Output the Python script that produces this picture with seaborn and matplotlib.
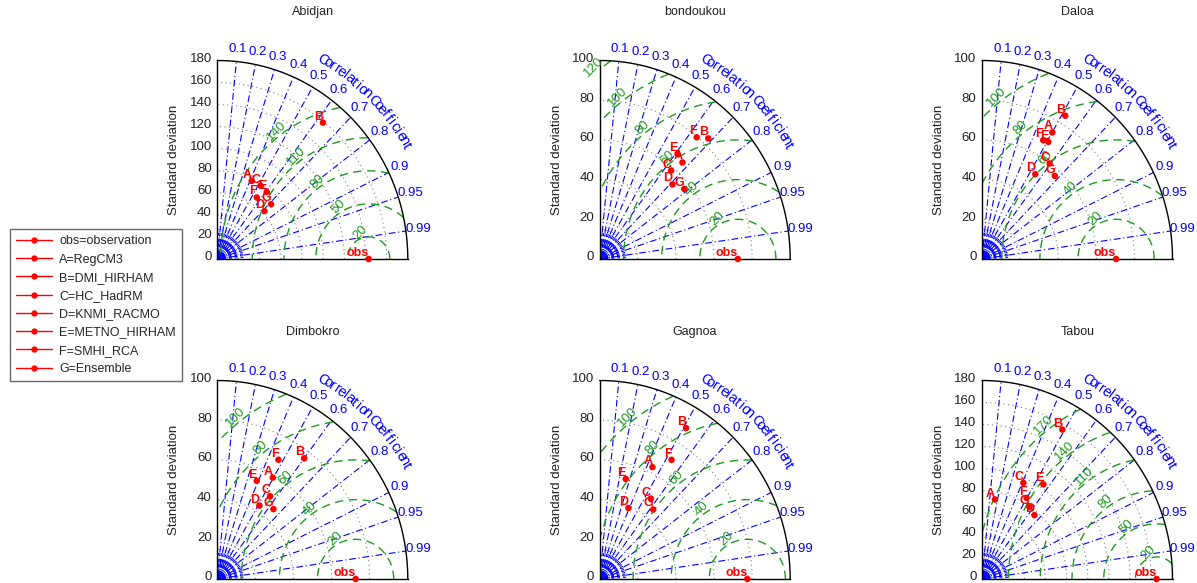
import numpy as np
import pandas as pd
import matplotlib
matplotlib.use('Agg')
import matplotlib.pyplot as plt
import matplotlib.transforms as mtransforms
from matplotlib.lines import Line2D
import seaborn as sns

# stations and models
stations = ['Abidjan', 'bondoukou', 'Daloa', 'Dimbokro', 'Gagnoa', 'Tabou']
models = ['A', 'B', 'C', 'D', 'E', 'F', 'G']
legend_names = ['obs=observation', 'A=RegCM3', 'B=DMI_HIRHAM', 'C=HC_HadRM',
                'D=KNMI_RACMO', 'E=METNO_HIRHAM', 'F=SMHI_RCA', 'G=Ensemble']

std_max = [180, 100, 100, 100, 100, 180]
obs_std = [143, 72.5, 70.4, 72.6, 77.5, 165]

# standard deviation / correlation of each model (order A..G)
abidjan_std = [77.9, 158.9, 78.0, 62.2, 76.7, 67.1, 71.1]
abidjan_cor = [0.417, 0.628, 0.526, 0.716, 0.609, 0.556, 0.715]
bondoukou_std = [65.2, 83.3, 58.2, 53.6, 66.8, 79.7, 56.7]
bondoukou_cor = [0.666, 0.684, 0.644, 0.713, 0.611, 0.639, 0.783]
daloa_std = [73.7, 84.4, 59.8, 51.1, 68.5, 67.9, 56.7]
daloa_cor = [0.501, 0.518, 0.594, 0.548, 0.508, 0.473, 0.674]
dimbokro_std = [58.8, 76.0, 50.1, 43.1, 53.6, 68.1, 45.9]
dimbokro_cor = [0.495, 0.600, 0.553, 0.513, 0.386, 0.471, 0.642]
gagnoa_std = [62.8, 88.5, 48.6, 38.8, 52.2, 70.9, 44.9]
gagnoa_cor = [0.441, 0.512, 0.552, 0.389, 0.262, 0.532, 0.626]
tabou_std = [73.1, 155.3, 95.5, 76.2, 103.6, 84.8, 79.3]
tabou_cor = [0.168, 0.489, 0.409, 0.650, 0.560, 0.497, 0.565]

all_std = [abidjan_std, bondoukou_std, daloa_std, dimbokro_std, gagnoa_std, tabou_std]
all_cor = [abidjan_cor, bondoukou_cor, daloa_cor, dimbokro_cor, gagnoa_cor, tabou_cor]

# centred RMS contour levels
rms_abidjan = [20, 50, 80, 110, 140]
rms_bondoukou = [20, 40, 60, 80, 100, 120]
rms_daloa = [20, 40, 60, 80, 100]
rms_dimbokro = [20, 40, 60, 80, 100]
rms_gagnoa = [20, 40, 60, 80, 100]
rms_tabou = [20, 50, 80, 110, 140, 170]
all_rms = [rms_abidjan, rms_bondoukou, rms_daloa, rms_dimbokro, rms_gagnoa, rms_tabou]

cor_ticks = [0.1, 0.2, 0.3, 0.4, 0.5, 0.6, 0.7, 0.8, 0.9, 0.95, 0.99]

sns.set_theme(style='white')
plt.rcParams['font.family'] = ['Liberation Sans', 'DejaVu Sans']

W, H = 1197, 583
fig = plt.figure(figsize=(W / 100, H / 100), dpi=100)

lefts = [217.3, 599.7, 982.0]
bottoms = [259, 579]
aw, ah = 190.5, 198.5

blue = '#0000ff'
green = '#1f9a1f'
dashdot = (0, (6, 2.5, 1, 2.5))
up = mtransforms.ScaledTranslation(0, 3 / 100, fig.dpi_scale_trans)

for i, name in enumerate(stations):
    row, col = i // 3, i % 3
    ax = fig.add_axes([lefts[col] / W, (H - bottoms[row]) / H, aw / W, ah / H])
    rmax = std_max[i]
    so = obs_std[i]
    ax.set_xlim(0, rmax)
    ax.set_ylim(0, rmax)

    t = np.linspace(0, np.pi / 2, 300)
    # std arcs
    for s in np.arange(20, rmax, 20):
        ax.plot(s * np.cos(t), s * np.sin(t), color='#808080', ls=(0, (1, 3)), lw=0.8)

    # small fan near the origin
    for a in np.deg2rad(np.arange(0, 91, 3.5)):
        ax.plot([0, 0.15 * rmax * np.cos(a)], [0, 0.15 * rmax * np.sin(a)],
                color=blue, ls=(0, (3, 3)), lw=0.7)

    # correlation rays and labels
    for c in cor_ticks:
        a = np.arccos(c)
        ax.plot([0, rmax * np.cos(a)], [0, rmax * np.sin(a)], color=blue, ls=dashdot, lw=0.8)
        ax.text(1.065 * rmax * np.cos(a), 1.065 * rmax * np.sin(a), f'{c:g}',
                color=blue, fontsize=9.5, ha='center', va='center', clip_on=False)

    # curved axis title
    txt = 'Correlation Coefficient'
    angs = np.linspace(61, 30, len(txt))
    for ch, ang in zip(txt, angs):
        r = np.deg2rad(ang)
        ax.text(1.145 * rmax * np.cos(r), 1.145 * rmax * np.sin(r), ch, color=blue,
                fontsize=10.5, rotation=ang - 90, ha='center', va='center',
                rotation_mode='anchor', clip_on=False)

    # RMS circles
    tt = np.linspace(0, np.pi, 600)
    for L in all_rms[i]:
        x = so + L * np.cos(tt)
        y = L * np.sin(tt)
        bad = (x < 0) | (x ** 2 + y ** 2 > rmax ** 2)
        x[bad] = np.nan
        y[bad] = np.nan
        ax.plot(x, y, color=green, ls=(0, (6, 4)), lw=1.0)
        ang = np.deg2rad(130 - 20 * (0.12 * rmax / L))
        rr = L + 0.03 * rmax
        ax.text(so + rr * np.cos(ang), rr * np.sin(ang), str(L), color=green,
                fontsize=9.5, rotation=45, ha='center', va='center', clip_on=False)

    # outer arc
    ax.plot(rmax * np.cos(t), rmax * np.sin(t), color='black', lw=1.0, clip_on=False)

    # points
    std = np.array(all_std[i])
    cor = np.array(all_cor[i])
    df = pd.DataFrame({'model': models, 'x': std * cor, 'y': std * np.sqrt(1 - cor ** 2)})
    sns.scatterplot(data=df, x='x', y='y', ax=ax, color='red', s=22, edgecolor='none',
                    legend=False, clip_on=False, zorder=5)
    for _, r in df.iterrows():
        ax.text(r['x'], r['y'], r['model'], color='red', fontsize=9, fontweight='bold',
                ha='right', va='bottom', zorder=6)
    ax.scatter([so], [0], color='red', s=22, edgecolor='none', clip_on=False, zorder=5)
    ax.text(so, 0, 'obs', color='red', fontsize=9, fontweight='bold',
            ha='right', va='bottom', zorder=6)

    ax.set_xlabel('')
    ax.set_ylabel('Standard deviation', fontsize=9.5, color='#222222')
    ax.yaxis.set_label_coords(-0.194, 0.5)
    ax.set_yticks(np.arange(0, rmax + 1, 20))
    ax.set_xticks([])
    ax.tick_params(axis='y', length=0, pad=4, labelsize=9.5, labelcolor='#222222')
    for lab in ax.get_yticklabels():
        lab.set_transform(lab.get_transform() + up)
    for sp in ['top', 'right']:
        ax.spines[sp].set_visible(False)
    for sp in ['left', 'bottom']:
        ax.spines[sp].set_color('black')
        ax.spines[sp].set_linewidth(1.0)
    ax.text(0.5, 1.242, name, transform=ax.transAxes, ha='center', va='center',
            fontsize=9, color='#222222')

handles = [Line2D([0], [0], color='red', marker='.', markersize=7, lw=1)
           for _ in legend_names]
fig.legend(handles, legend_names, loc='upper left', bbox_to_anchor=(10 / W, 1 - 229 / H),
           frameon=True, fancybox=False, edgecolor='#444444', fontsize=9,
           handlelength=2.9, handletextpad=0.55, labelspacing=0.5, borderpad=0.5,
           borderaxespad=0)

fig.savefig('out.png', dpi=100)
